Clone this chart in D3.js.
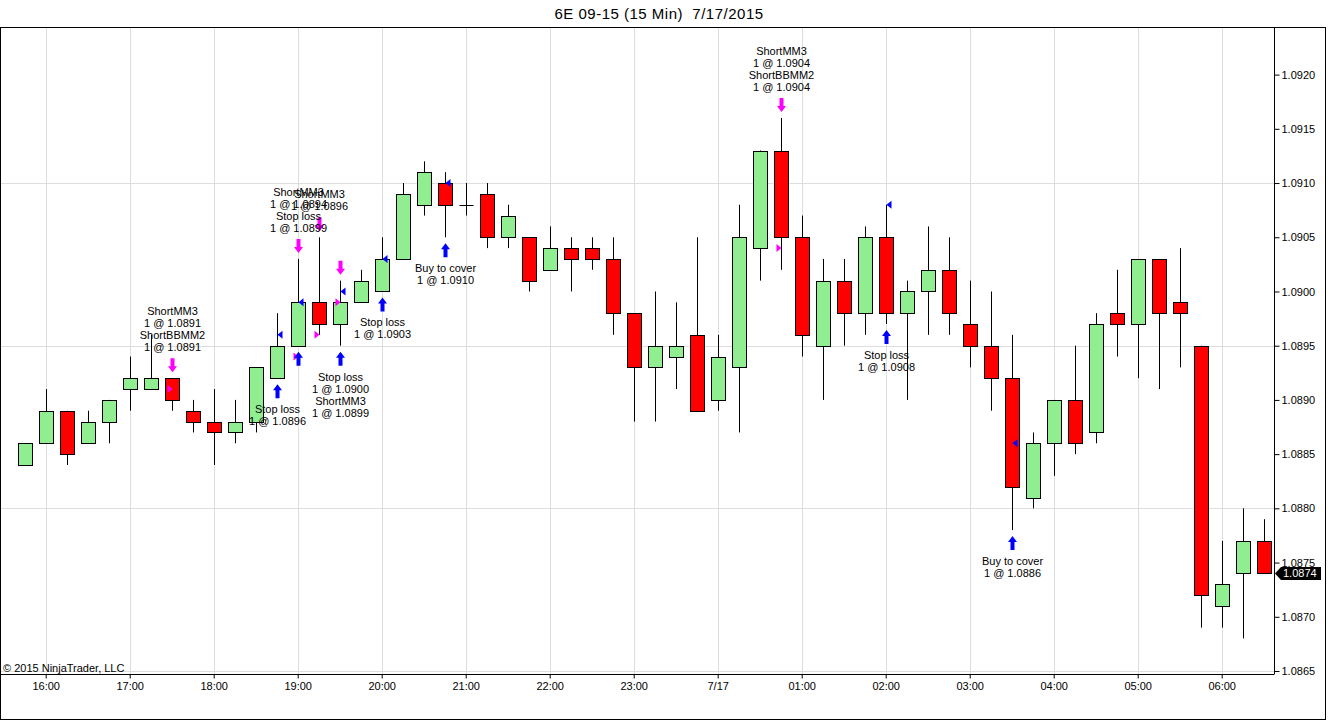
<!DOCTYPE html>
<html>
<head>
<meta charset="utf-8">
<script src="https://cdn.jsdelivr.net/npm/d3@7"></script>
<style>
  body { margin: 0; background: #fff; }
  svg { display: block; font-family: "Liberation Sans", Arial, sans-serif; }
  .axis path, .axis line { stroke: #000; }
  .axis text { fill: #000; font-size: 11px; }
</style>
</head>
<body>
<svg id="chart" width="1328" height="720"></svg>
<script>
// 15 min bars, 7/16/2015 15:45 .. 7/17/2015 06:30
var start = new Date(2015, 6, 16, 15, 45);

var open = [1.0884,1.0886,1.0889,1.0886,1.0888,1.0891,1.0891,1.0892,1.0889,1.0888,
            1.0887,1.0888,1.0892,1.0895,1.0899,1.0897,1.0899,1.0900,1.0903,1.0908,
            1.0910,1.0908,1.0909,1.0905,1.0905,1.0902,1.0904,1.0904,1.0903,1.0898,
            1.0893,1.0894,1.0896,1.0890,1.0893,1.0904,1.0913,1.0905,1.0895,1.0901,
            1.0898,1.0905,1.0898,1.0900,1.0902,1.0897,1.0895,1.0892,1.0881,1.0886,
            1.0890,1.0887,1.0898,1.0897,1.0903,1.0899,1.0895,1.0871,1.0874,1.0877];
var high = [1.0886,1.0891,1.0889,1.0889,1.0890,1.0894,1.0896,1.0892,1.0890,1.0891,
            1.0890,1.0893,1.0898,1.0903,1.0905,1.0901,1.0902,1.0905,1.0910,1.0912,
            1.0911,1.0910,1.0910,1.0908,1.0905,1.0906,1.0905,1.0905,1.0905,1.0898,
            1.0900,1.0899,1.0905,1.0896,1.0908,1.0913,1.0916,1.0907,1.0903,1.0903,
            1.0906,1.0908,1.0901,1.0906,1.0905,1.0901,1.0900,1.0896,1.0887,1.0890,
            1.0895,1.0898,1.0902,1.0903,1.0903,1.0904,1.0895,1.0877,1.0880,1.0879];
var low  = [1.0884,1.0886,1.0884,1.0886,1.0886,1.0889,1.0891,1.0889,1.0887,1.0884,
            1.0886,1.0887,1.0892,1.0895,1.0896,1.0895,1.0899,1.0900,1.0903,1.0907,
            1.0905,1.0907,1.0904,1.0904,1.0900,1.0902,1.0900,1.0902,1.0896,1.0888,
            1.0888,1.0891,1.0889,1.0889,1.0887,1.0901,1.0902,1.0894,1.0890,1.0895,
            1.0896,1.0897,1.0890,1.0896,1.0896,1.0893,1.0889,1.0878,1.0880,1.0883,
            1.0885,1.0886,1.0894,1.0892,1.0891,1.0893,1.0869,1.0869,1.0868,1.0874];
var close = [1.0886,1.0889,1.0885,1.0888,1.0890,1.0892,1.0892,1.0890,1.0888,1.0887,
             1.0888,1.0893,1.0895,1.0899,1.0897,1.0899,1.0901,1.0903,1.0909,1.0911,
             1.0908,1.0908,1.0905,1.0907,1.0901,1.0904,1.0903,1.0903,1.0898,1.0893,
             1.0895,1.0895,1.0889,1.0894,1.0905,1.0913,1.0905,1.0896,1.0901,1.0898,
             1.0905,1.0898,1.0900,1.0902,1.0898,1.0895,1.0892,1.0882,1.0886,1.0890,
             1.0886,1.0897,1.0897,1.0903,1.0898,1.0898,1.0872,1.0873,1.0877,1.0874];

// executions: bar index + fill price
var entries = [[7,1.0891],[13,1.0894],[14,1.0896],[15,1.0899],[36,1.0904]];
var exits = [[12,1.0896],[13,1.0899],[15,1.0900],[17,1.0903],[20,1.0910],[41,1.0908],[47,1.0886]];
var sellArrows = [7,13,14,15,36];
var buyArrows = [12,13,15,17,20,41,47];

var labelsAbove = [
  [7, ["ShortMM3","1 @ 1.0891","ShortBBMM2","1 @ 1.0891"]],
  [13, ["ShortMM3","1 @ 1.0894","Stop loss","1 @ 1.0899"]],
  [14, ["ShortMM3","1 @ 1.0896"]],
  [36, ["ShortMM3","1 @ 1.0904","ShortBBMM2","1 @ 1.0904"]]
];
var labelsBelow = [
  [12, ["Stop loss","1 @ 1.0896"]],
  [15, ["Stop loss","1 @ 1.0900","ShortMM3","1 @ 1.0899"]],
  [17, ["Stop loss","1 @ 1.0903"]],
  [20, ["Buy to cover","1 @ 1.0910"]],
  [41, ["Stop loss","1 @ 1.0908"]],
  [47, ["Buy to cover","1 @ 1.0886"]]
];

var priceTicks = [1.0865,1.0870,1.0875,1.0880,1.0885,1.0890,1.0895,1.0900,1.0905,1.0910,1.0915,1.0920];
var gridPrices = [1.0865,1.0880,1.0895,1.0910];
var lastPrice = 1.0874;

var plotRight = 1274, plotTop = 27, plotBottom = 674;

var bars = open.map(function(o, i) {
  return { t: d3.timeMinute.offset(start, 15 * i), o: o, h: high[i], l: low[i], c: close[i] };
});

var svg = d3.select("#chart");

var x = d3.scaleTime()
    .domain([bars[0].t, bars[bars.length - 1].t])
    .range([24.7, 1263.7]);
var y = d3.scaleLinear()
    .domain([1.0865, 1.0920])
    .range([671, 74.6]);

function bx(i) { return Math.round(x(bars[i].t)); }

// title
svg.append("text")
    .attr("x", 659).attr("y", 19)
    .attr("text-anchor", "middle")
    .style("font-size", "15px")
    .style("letter-spacing", "0.5px")
    .style("white-space", "pre")
    .text("6E 09-15 (15 Min)  7/17/2015");

// grid
var hours = x.ticks(d3.timeHour.every(1));
svg.append("g").selectAll("line.vg")
    .data(hours).enter().append("line")
    .attr("x1", function(d) { return Math.round(x(d)) + 0.5; })
    .attr("x2", function(d) { return Math.round(x(d)) + 0.5; })
    .attr("y1", plotTop).attr("y2", plotBottom)
    .attr("stroke", "#dedede");
svg.append("g").selectAll("line.hg")
    .data(gridPrices).enter().append("line")
    .attr("x1", 1).attr("x2", plotRight)
    .attr("y1", function(d) { return Math.round(y(d)) + 0.5; })
    .attr("y2", function(d) { return Math.round(y(d)) + 0.5; })
    .attr("stroke", "#dedede");

// frame
svg.append("rect")
    .attr("x", 0.5).attr("y", plotTop + 0.5)
    .attr("width", 1325).attr("height", 719 - plotTop)
    .attr("fill", "none").attr("stroke", "#000");

// axes
svg.append("g")
    .attr("class", "axis")
    .attr("transform", "translate(0," + (plotBottom + 0.5) + ")")
    .call(d3.axisBottom(x)
        .ticks(d3.timeHour.every(1))
        .tickSize(4).tickPadding(4)
        .tickFormat(function(d) { return d.getHours() === 0 ? "7/17" : d3.timeFormat("%H:%M")(d); }))
    .call(function(g) { g.select(".domain").attr("d", "M0.5,0H" + plotRight); });

svg.append("g")
    .attr("class", "axis")
    .attr("transform", "translate(" + (plotRight + 0.5) + ",0)")
    .call(d3.axisRight(y)
        .tickValues(priceTicks)
        .tickSize(5).tickPadding(2)
        .tickFormat(d3.format(".4f")))
    .call(function(g) { g.select(".domain").attr("d", "M0," + plotTop + "V" + (plotBottom + 0.5)); });

// candles
var cg = svg.append("g");
bars.forEach(function(d, i) {
  var cx = bx(i) + 0.5;
  cg.append("line")
      .attr("x1", cx).attr("x2", cx)
      .attr("y1", y(d.h)).attr("y2", y(d.l))
      .attr("stroke", "#000");
  var top = Math.round(y(Math.max(d.o, d.c))) + 0.5;
  var bot = Math.round(y(Math.min(d.o, d.c))) + 0.5;
  if (bot - top < 1) {
    cg.append("line")
        .attr("x1", cx - 7).attr("x2", cx + 7)
        .attr("y1", top).attr("y2", top)
        .attr("stroke", "#000");
  } else {
    cg.append("rect")
        .attr("x", cx - 7).attr("y", top)
        .attr("width", 14).attr("height", bot - top)
        .attr("fill", d.c >= d.o ? "#90ee90" : "#ff0000")
        .attr("stroke", "#000");
  }
});

// execution triangles
var mg = svg.append("g");
entries.forEach(function(e) {
  var cx = bx(e[0]) + 0.5, py = y(e[1]);
  mg.append("path")
      .attr("d", "M" + (cx - 5) + "," + (py - 4) + "L" + cx + "," + py + "L" + (cx - 5) + "," + (py + 4) + "Z")
      .attr("fill", "#ff00ff");
});
exits.forEach(function(e) {
  var cx = bx(e[0]) + 0.5, py = y(e[1]);
  mg.append("path")
      .attr("d", "M" + (cx + 5) + "," + (py - 4) + "L" + cx + "," + py + "L" + (cx + 5) + "," + (py + 4) + "Z")
      .attr("fill", "#0000ff");
});

// arrows: tip offset 6px from bar high/low
function arrowPath(cx, tip, dir) {
  var pts = [[0,0],[4.5,6],[2,6],[2,14],[-2,14],[-2,6],[-4.5,6]];
  return "M" + pts.map(function(p) { return (cx + p[0]) + "," + (tip + dir * p[1]); }).join("L") + "Z";
}
sellArrows.forEach(function(i) {
  mg.append("path")
      .attr("d", arrowPath(bx(i) + 0.5, y(bars[i].h) - 6, -1))
      .attr("fill", "#ff00ff");
});
buyArrows.forEach(function(i) {
  mg.append("path")
      .attr("d", arrowPath(bx(i) + 0.5, y(bars[i].l) + 6, 1))
      .attr("fill", "#0000ff");
});

// execution texts
var tg = svg.append("g")
    .attr("text-anchor", "middle")
    .style("font-size", "11px")
    .attr("fill", "#000");
labelsAbove.forEach(function(l) {
  var i = l[0], lines = l[1];
  var lastY = y(bars[i].h) - 20 - 11;
  lines.forEach(function(s, k) {
    tg.append("text")
        .attr("x", bx(i) + 0.5)
        .attr("y", lastY - (lines.length - 1 - k) * 12)
        .attr("dy", "0.35em")
        .text(s);
  });
});
labelsBelow.forEach(function(l) {
  var i = l[0], lines = l[1];
  var firstY = y(bars[i].l) + 20 + 11;
  lines.forEach(function(s, k) {
    tg.append("text")
        .attr("x", bx(i) + 0.5)
        .attr("y", firstY + k * 12)
        .attr("dy", "0.35em")
        .text(s);
  });
});

// last price tag
var ly = Math.round(y(lastPrice)) + 0.5;
svg.append("path")
    .attr("d", "M" + (plotRight + 1) + "," + ly + "L" + (plotRight + 7) + "," + (ly - 6.5) +
               "H1321V" + (ly + 6.5) + "H" + (plotRight + 7) + "Z")
    .attr("fill", "#000");
svg.append("text")
    .attr("x", plotRight + 9).attr("y", ly)
    .attr("dy", "0.35em")
    .attr("fill", "#fff")
    .style("font-size", "11px")
    .text(d3.format(".4f")(lastPrice));

// copyright
svg.append("text")
    .attr("x", 3).attr("y", 672)
    .style("font-size", "11px")
    .text("\u00a9 2015 NinjaTrader, LLC");
</script>
</body>
</html>
